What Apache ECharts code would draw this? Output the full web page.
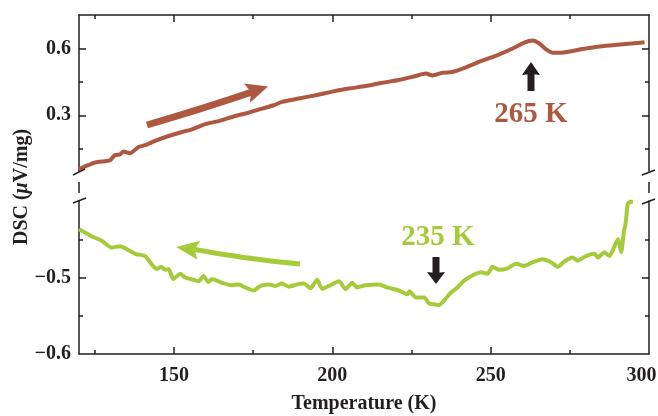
<!DOCTYPE html>
<html><head><meta charset="utf-8">
<script src="https://cdn.jsdelivr.net/npm/echarts@6/dist/echarts.min.js"></script>
<style>html,body{margin:0;padding:0;background:#fff}#c{width:658px;height:416px}</style>
</head><body><div id="c"></div>
<script>
// Heating curve (brown): temperature (K) and DSC (µV/mg)
const heatT = [120,122.9,125.1,128.2,129.8,131.3,133,134,136.1,138.8,140.9,144,148.3,152.5,155.7,159.9,164.1,169.4,173.6,177.8,181.5,184.1,189.4,194.7,200,205.2,210.5,215.8,221,226.3,229.5,231.6,234.8,237.9,241.1,246.9,252.2,257.4,260.6,263.3,265.4,267.5,269.6,272.2,278.5,283.8,289.1,294.4,298.6];
const heatDSC = [0.058,0.076,0.088,0.094,0.098,0.121,0.125,0.137,0.130,0.158,0.166,0.185,0.207,0.225,0.237,0.260,0.274,0.297,0.312,0.330,0.345,0.360,0.375,0.390,0.406,0.420,0.431,0.446,0.458,0.476,0.487,0.479,0.491,0.494,0.509,0.543,0.570,0.603,0.626,0.636,0.622,0.596,0.581,0.581,0.596,0.608,0.615,0.622,0.628];
// Cooling curve (green)
const coolT = [120,124.0,127.2,130.3,133,135.1,137.7,140.9,143,144.6,145.9,147.2,148.3,149.8,152,153.5,156.2,157.8,159.3,160.9,162,165.2,168.3,170.4,172.5,175.2,177.3,179.9,182,184.1,186.2,188.9,191,193.1,195.2,196.8,198.9,202.1,204.2,206.3,207.8,210.5,214.7,217.3,221,223.7,224.4,226.3,229,230.6,232.1,233.7,235.3,237.4,239.5,241.6,244.8,246.9,249,250.6,252.7,255.3,258,260.6,263.3,266.4,269.1,271.2,273.3,275.9,277.5,280.1,282.8,283.8,285.9,287.5,289.1,290.2,291.2,292.1,292.6,293.3,294.2,294.9];
const coolDSC = [-0.437,-0.446,-0.452,-0.461,-0.459,-0.463,-0.469,-0.472,-0.483,-0.489,-0.486,-0.490,-0.489,-0.502,-0.495,-0.500,-0.503,-0.505,-0.498,-0.506,-0.502,-0.507,-0.510,-0.509,-0.513,-0.517,-0.511,-0.509,-0.511,-0.508,-0.512,-0.509,-0.508,-0.514,-0.503,-0.515,-0.511,-0.505,-0.515,-0.507,-0.513,-0.510,-0.509,-0.513,-0.517,-0.522,-0.518,-0.526,-0.526,-0.534,-0.535,-0.536,-0.530,-0.520,-0.513,-0.504,-0.496,-0.493,-0.495,-0.486,-0.490,-0.488,-0.482,-0.485,-0.480,-0.476,-0.480,-0.486,-0.479,-0.474,-0.478,-0.472,-0.469,-0.474,-0.467,-0.472,-0.459,-0.450,-0.467,-0.439,-0.430,-0.404,-0.401,-0.401];
// Axis ticks
const xMajor = [150,200,250,300];
const xMinor = [125,175,225,275];
const yTopMajor = [0.3,0.6];
const yTopMinor = [0.15,0.45];
const yBotMajor = [-0.6,-0.5];
const yBotMinor = [-0.55,-0.45];

const INK = '#231f20', BROWN = '#ad5841', GREEN = '#a6cb3a';
const FONT = '"Liberation Serif","Times New Roman",serif';
const lineStyle = {color: INK, width: 1.5};
const gTop = {left:79, right:9, top:15, height:156, containLabel:false, outerBoundsMode:'none'};
const gBot = {left:79, right:9, top:201, height:153, containLabel:false, outerBoundsMode:'none'};

function xAx(grid, pos, ticks, len, opts) {
  return Object.assign({
    type:'value', gridIndex:grid, position:pos, min:120, max:300,
    axisLine:{show:true, lineStyle}, splitLine:{show:false},
    axisTick:{show:true, inside:true, length:len, customValues:ticks, lineStyle},
    axisLabel:{show:false}
  }, opts||{});
}
function yAx(grid, pos, min, max, ticks, len, opts) {
  return Object.assign({
    type:'value', gridIndex:grid, position:pos, min, max,
    axisLine:{show:true, lineStyle}, splitLine:{show:false},
    axisTick:{show:true, inside:true, length:len, customValues:ticks, lineStyle},
    axisLabel:{show:false}
  }, opts||{});
}
const fmt = v => (v < 0 ? '\u2212' : '') + Math.abs(v).toFixed(1);
const labelStyle = (vals) => ({show:true, customValues:vals, formatter:fmt, fontFamily:FONT, fontWeight:'bold', fontSize:20, color:INK, margin:8});

const chart = echarts.init(document.getElementById('c'), null, {renderer:'canvas'});

function arrowHead(tip, dir, len, hw, notch, color) {
  const m = Math.hypot(dir[0], dir[1]); const u = [dir[0]/m, dir[1]/m]; const n = [-u[1], u[0]];
  const b = [tip[0]-len*u[0], tip[1]-len*u[1]];
  const k = [tip[0]-notch*u[0], tip[1]-notch*u[1]];
  return {type:'polygon', shape:{points:[tip,[b[0]+hw*n[0],b[1]+hw*n[1]],k,[b[0]-hw*n[0],b[1]-hw*n[1]]]}, style:{fill:color}, z:10};
}
function seg(x1,y1,x2,y2,w,c){return {type:'line', shape:{x1,y1,x2,y2}, style:{stroke:c||INK, lineWidth:w||1.5}, z:10};}

chart.setOption({
  animation:false,
  grid:[gTop, gBot, gTop, gBot],
  xAxis:[
    xAx(0,'top',[150,200,250],7),
    xAx(1,'bottom',[150,200,250],7,{
      axisLabel:{show:true, customValues:xMajor, fontFamily:FONT, fontWeight:'bold', fontSize:20, color:INK, margin:12,
        formatter: v => v === 300 ? '{r|300}' : String(v),
        rich:{r:{fontFamily:FONT, fontWeight:'bold', fontSize:20, color:INK, padding:[0,15,0,0]}}},
      name:'Temperature (K)', nameLocation:'middle', nameGap:40,
      nameTextStyle:{fontFamily:FONT, fontWeight:'bold', fontSize:20, color:INK}}),
    xAx(2,'top',xMinor,4,{axisLine:{show:false}}),
    xAx(3,'bottom',xMinor,4,{axisLine:{show:false}})
  ],
  yAxis:[
    yAx(0,'left',0.05,0.75,yTopMajor,7,{axisLabel:labelStyle(yTopMajor)}),
    yAx(0,'right',0.05,0.75,yTopMajor,7),
    yAx(1,'left',-0.6,-0.4,[-0.5],7,{axisLabel:labelStyle(yBotMajor)}),
    yAx(1,'right',-0.6,-0.4,[-0.5],7),
    yAx(2,'left',0.05,0.75,yTopMinor,4,{axisLine:{show:false}}),
    yAx(2,'right',0.05,0.75,yTopMinor,4,{axisLine:{show:false}}),
    yAx(3,'left',-0.6,-0.4,yBotMinor,4,{axisLine:{show:false}}),
    yAx(3,'right',-0.6,-0.4,yBotMinor,4,{axisLine:{show:false}})
  ],
  series:[
    {type:'line', xAxisIndex:0, yAxisIndex:0, data:heatT.map((t,i)=>[t,heatDSC[i]]), showSymbol:false, smooth:0.25,
     lineStyle:{color:BROWN, width:4}, clip:false},
    {type:'line', xAxisIndex:1, yAxisIndex:2, data:coolT.map((t,i)=>[t,coolDSC[i]]), showSymbol:false, smooth:0.2,
     lineStyle:{color:GREEN, width:4}, clip:false}
  ],
  graphic:[
    // axis break marks
    seg(73,175,85,169), seg(79,182,79,193), seg(73,203,86,198),
    seg(642,175,655,170), seg(649,182,649,193), seg(642,204,655,199),
    // y axis title
    {type:'text', x:22, y:187, rotation:Math.PI/2, z:10,
     style:{text:'{a|DSC (}{b|\u03bc}{a|V/mg)}', align:'center', verticalAlign:'middle',
       rich:{a:{fontFamily:FONT, fontWeight:'bold', fontSize:20, fill:INK},
             b:{fontFamily:FONT, fontWeight:'bold', fontStyle:'italic', fontSize:20, fill:INK}}}},
    // brown arrow
    {type:'bezierCurve', shape:{x1:147,y1:125,cpx1:205,cpy1:108,x2:252,y2:92}, style:{stroke:BROWN, lineWidth:7, fill:null}, z:9},
    arrowHead([268,86.5],[120,-38],22,10,18,BROWN),
    // green arrow
    {type:'bezierCurve', shape:{x1:300,y1:264,cpx1:245,cpy1:259,x2:195,y2:249.5}, style:{stroke:GREEN, lineWidth:5, fill:null}, z:9},
    arrowHead([176,247],[-30,-4.3],23,9.5,19,GREEN),
    // black arrows
    seg(531,91,531,72,7), arrowHead([531,62],[0,-1],13,9,12,INK),
    seg(436,257,436,276,7), arrowHead([436,284],[0,1],12,9,11,INK),
    // labels
    {type:'text', x:531, y:115, z:10, style:{text:'265 K', align:'center', verticalAlign:'middle', fontFamily:FONT, fontWeight:'bold', fontSize:29, fill:BROWN}},
    {type:'text', x:438, y:238, z:10, style:{text:'235 K', align:'center', verticalAlign:'middle', fontFamily:FONT, fontWeight:'bold', fontSize:29, fill:GREEN}}
  ]
});
</script></body></html>
